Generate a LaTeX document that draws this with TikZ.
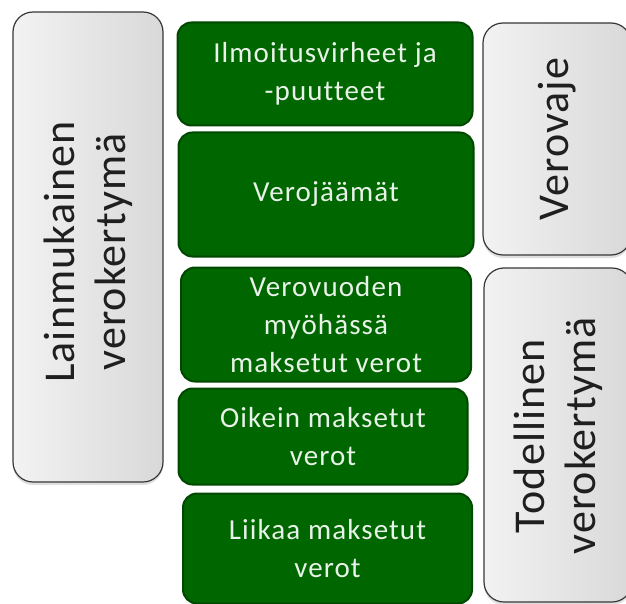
\documentclass[tikz,border=0pt]{standalone}
\usepackage{fontspec}
\setmainfont{Carlito}
\newfontfamily\greenfont[LetterSpace=3.8,Ligatures=CommonOff]{Carlito}
\newfontfamily\grayfont[LetterSpace=2.5,Ligatures=CommonOff]{Carlito}
\usetikzlibrary{shadows}
\definecolor{gfill}{RGB}{0,102,0}
\definecolor{gdraw}{RGB}{0,72,0}
\definecolor{gtext}{RGB}{232,242,232}
\definecolor{bdraw}{RGB}{55,55,55}
\begin{document}
\begin{tikzpicture}[x=1pt,y=-1pt,
  greenbox/.style={draw=gdraw, line width=2pt, fill=gfill, rounded corners=14pt,
    text=gtext, align=center, inner sep=0pt,
    font=\greenfont\fontsize{29}{38}\selectfont},
  graybox/.style={draw=bdraw, line width=1.2pt, left color=gray!10, right color=gray!30,
    rounded corners=20pt, inner sep=0pt,
    drop shadow={opacity=0.25, shadow xshift=0pt, shadow yshift=-3pt}},
  graytext/.style={rotate=90, align=center, text=black!88,
    font=\grayfont\fontsize{44}{51}\selectfont}]
\useasboundingbox (0,0) rectangle (626,604);
\clip (0,0) rectangle (626,604);
% gray boxes
\node[graybox, minimum width=150pt, minimum height=470pt] (law) at (88,247) {};
\node[graytext] (lawt) at (88,252) {Lainmukainen\\verokertymä};
\node[graybox, minimum width=148pt, minimum height=232pt] (gap) at (557,139) {};
\node[graytext] (gapt) at (557,139) {Verovaje};
\node[graybox, minimum width=148pt, minimum height=334pt] (act) at (558,435) {};
\node[graytext] (actt) at (558,436) {Todellinen\\verokertymä};
% green boxes
\node[greenbox, minimum width=295pt, minimum height=103pt] (g1) at (325,74) {Ilmoitusvirheet ja\\-puutteet};
\node[greenbox, minimum width=295pt, minimum height=124pt] (g2) at (326,194.5) {Verojäämät};
\node[greenbox, minimum width=290pt, minimum height=114pt] (g3) at (326,324.5) {Verovuoden\\myöhässä\\maksetut verot};
\node[greenbox, minimum width=289pt, minimum height=96pt] (g4) at (323,436.5) {Oikein maksetut\\verot};
\node[greenbox, minimum width=289pt, minimum height=110pt] (g5) at (327.5,548.5) {Liikaa maksetut\\verot};
\end{tikzpicture}
\end{document}
